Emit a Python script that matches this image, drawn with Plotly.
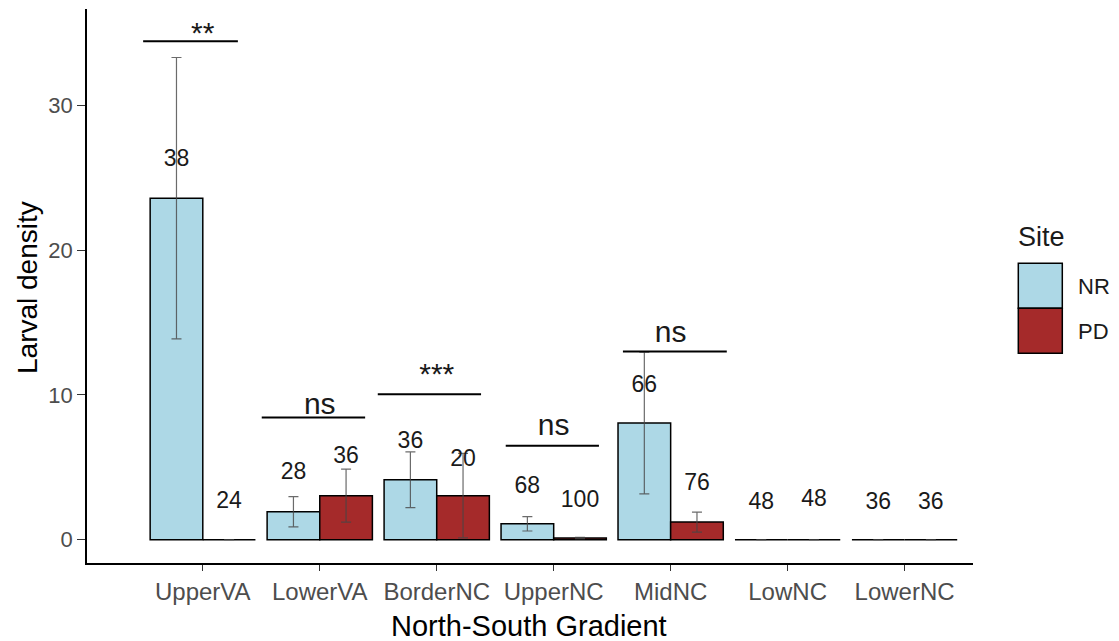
import plotly.graph_objects as go

# ---------------- data ----------------
regions = ["UpperVA", "LowerVA", "BorderNC", "UpperNC", "MidNC", "LowNC", "LowerNC"]
sites = ["NR", "PD"]

nr_mean = [23.6, 1.93, 4.14, 1.10, 8.06, 0.0, 0.0]
nr_se = [9.72, 1.04, 1.93, 0.50, 4.90, 0.0, 0.0]
pd_mean = [0.0, 3.04, 3.04, 0.12, 1.22, 0.0, 0.0]
pd_se = [0.0, 1.83, 2.92, 0.05, 0.69, 0.0, 0.0]

# sample-size labels and their heights
nr_n = ["38", "28", "36", "68", "66", "48", "36"]
pd_n = ["24", "36", "20", "100", "76", "48", "36"]
nr_n_y = [26.24, 4.58, 6.70, 3.63, 10.59, 2.55, 2.52]
pd_n_y = [2.56, 5.73, 5.46, 2.65, 3.80, 2.71, 2.51]

# significance brackets
sig_labels = ["**", "ns", "***", "ns", "ns"]
sig_group = [0, 1, 2, 3, 4]
sig_xmin = [-0.51, 0.504, 1.496, 2.59, 3.592]
sig_xmax = [0.30, 1.388, 2.379, 3.387, 4.48]
sig_line_y = [34.44, 8.45, 10.05, 6.49, 13.0]
sig_text_y = [34.83, 9.19, 11.28, 7.77, 14.15]

x_title = "North-South Gradient"
y_title = "Larval density"
legend_title = "Site"

colors = {"NR": "#ADD8E6", "PD": "#A52A2A"}
FONT = "Liberation Sans, Arial, sans-serif"

FIG_W, FIG_H = 1119, 641
# plot area in pixel coordinates
REF_L, REF_T, PW, PH = 87, 9, 886, 554

# ---------------- figure ----------------
fig = go.Figure()
bar_w = 0.45
xs = list(range(len(regions)))

for site, mean, se, off in [("NR", nr_mean, nr_se, -bar_w), ("PD", pd_mean, pd_se, 0.0)]:
    fig.add_trace(go.Bar(
        x=xs, y=mean, width=bar_w, offset=off, name=site,
        marker=dict(color=colors[site], line=dict(color="black", width=1.5)),
        error_y=dict(type="data", array=se, symmetric=True,
                     color="rgba(70,70,70,0.8)", thickness=1.2, width=5),
        showlegend=False,
    ))

# n labels
fig.add_trace(go.Scatter(
    x=[i - bar_w / 2 for i in xs] + [i + bar_w / 2 for i in xs],
    y=nr_n_y + pd_n_y,
    text=nr_n + pd_n, mode="text", textposition="middle center",
    textfont=dict(family=FONT, size=23, color="#1a1a1a"),
    showlegend=False, hoverinfo="skip",
))

# significance lines
lx, ly = [], []
for a, b, h in zip(sig_xmin, sig_xmax, sig_line_y):
    lx += [a, b, None]
    ly += [h, h, None]
fig.add_trace(go.Scatter(x=lx, y=ly, mode="lines",
                         line=dict(color="black", width=2),
                         showlegend=False, hoverinfo="skip"))
fig.add_trace(go.Scatter(
    x=sig_group, y=sig_text_y, text=sig_labels, mode="text",
    textposition="middle center",
    textfont=dict(family=FONT, size=30, color="#1a1a1a"),
    showlegend=False, hoverinfo="skip",
))

# helpers: pixel -> paper coordinates
def px(x):
    return (x - REF_L) / PW
def py(y):
    return (REF_T + PH - y) / PH

# custom legend (large keys like ggplot)
key_top = [263.3, 308.3]
for k, site in enumerate(sites):
    fig.add_shape(type="rect", xref="paper", yref="paper",
                  x0=px(1018.3), x1=px(1062.3),
                  y0=py(key_top[k] + 45), y1=py(key_top[k]),
                  fillcolor=colors[site], line=dict(color="black", width=1.5))
    fig.add_annotation(xref="paper", yref="paper", x=px(1076), y=py(key_top[k] + 23),
                       text=site, showarrow=False, xanchor="left", yanchor="middle",
                       font=dict(family=FONT, size=22, color="#1a1a1a"))
fig.add_annotation(xref="paper", yref="paper", x=px(1016), y=py(237),
                   text=legend_title, showarrow=False, xanchor="left", yanchor="middle",
                   font=dict(family=FONT, size=27, color="#1a1a1a"))

# axis titles
fig.add_annotation(xref="paper", yref="paper", x=px(529), y=py(626),
                   text=x_title, showarrow=False, xanchor="center", yanchor="middle",
                   font=dict(family=FONT, size=29, color="black"))
fig.add_annotation(xref="paper", yref="paper", x=px(27), y=py(287),
                   text=y_title, showarrow=False, xanchor="center", yanchor="middle",
                   textangle=-90,
                   font=dict(family=FONT, size=28, color="black"))

fig.update_layout(
    width=FIG_W, height=FIG_H,
    margin=dict(l=REF_L, r=FIG_W - REF_L - PW, t=REF_T, b=FIG_H - REF_T - PH, pad=0,
                autoexpand=False),
    plot_bgcolor="white", paper_bgcolor="white",
    barmode="overlay",
    font=dict(family=FONT),
    xaxis=dict(
        range=[-0.99, 6.585], tickmode="array", tickvals=xs, ticktext=regions,
        showline=True, linecolor="black", linewidth=1.5,
        ticks="outside", ticklen=6, tickcolor="#333333", tickwidth=1.2,
        tickfont=dict(family=FONT, size=24, color="#4D4D4D"),
        showgrid=False, zeroline=False, automargin=False,
    ),
    yaxis=dict(
        range=[-1.61, 36.67], tickvals=[0, 10, 20, 30],
        showline=True, linecolor="black", linewidth=1.5,
        ticks="outside", ticklen=8, tickcolor="#333333", tickwidth=1.2,
        tickfont=dict(family=FONT, size=22, color="#4D4D4D"),
        showgrid=False, zeroline=False, automargin=False,
    ),
)

fig.write_html(
    "out.html",
    config={"displayModeBar": False},
    post_script="document.body.style.margin='0';document.body.style.overflow='hidden';",
)
